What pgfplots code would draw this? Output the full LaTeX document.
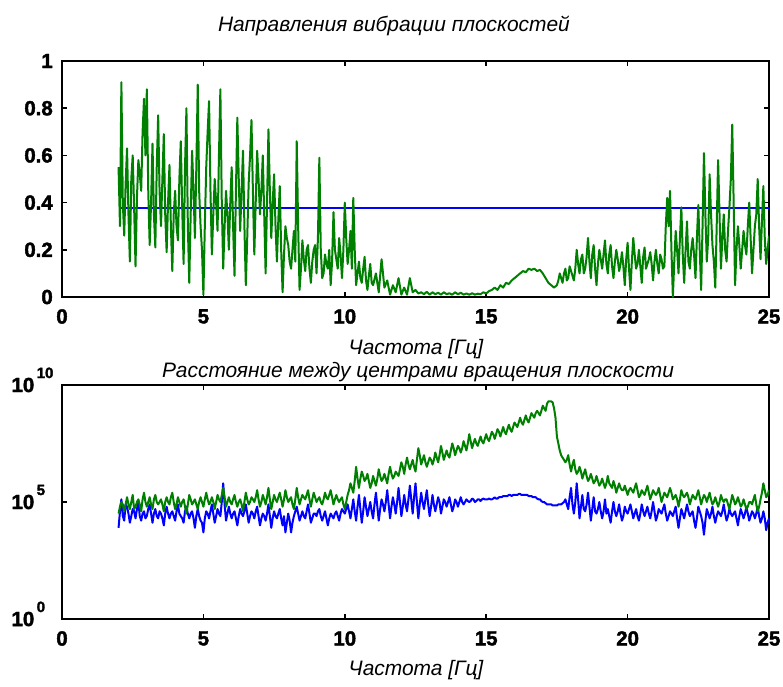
\documentclass[border=0pt]{standalone}
\usepackage{fontspec}
\setmainfont{Liberation Sans}
\newfontfamily\tickfont{Liberation Sans Bold}[FakeBold=2]
\usepackage{pgfplots}
\usepackage{pgfplotstable}
\pgfplotsset{compat=1.18}

\definecolor{mlgreen}{RGB}{0,128,0}
\definecolor{mlblue}{RGB}{0,0,255}

% power-of-ten label: the base carries the alignment, the exponent hangs to its right
\newcommand\tp[1]{10\rlap{\smash{\hspace{2.5bp}\raisebox{14bp}{\fontsize{15}{15}\selectfont #1}}}}

% direction coherence (upper panel)
\pgfplotstableread{
x y
2.0 0.55
2.05 0.30
2.1 0.91
2.15 0.40
2.2 0.26
2.25 0.48
2.3 0.63
2.35 0.35
2.4 0.15
2.45 0.50
2.5 0.60
2.55 0.38
2.6 0.13
2.65 0.42
2.7 0.58
2.75 0.52
2.8 0.45
2.85 0.70
2.9 0.84
2.95 0.60
3.0 0.88
3.05 0.45
3.1 0.22
3.15 0.40
3.2 0.65
3.25 0.35
3.3 0.21
3.35 0.55
3.4 0.77
3.45 0.45
3.5 0.30
3.55 0.50
3.6 0.69
3.65 0.35
3.7 0.19
3.75 0.40
3.8 0.56
3.85 0.30
3.9 0.11
3.95 0.35
4.0 0.45
4.05 0.30
4.1 0.24
4.15 0.50
4.2 0.66
4.25 0.38
4.3 0.14
4.35 0.55
4.4 0.80
4.45 0.30
4.5 0.06
4.55 0.35
4.6 0.62
4.65 0.45
4.7 0.25
4.75 0.55
4.8 0.90
4.85 0.45
4.9 0.30
4.95 0.20
5.0 0.01
5.05 0.30
5.1 0.55
5.15 0.70
5.2 0.83
5.25 0.45
5.3 0.18
5.35 0.35
5.4 0.50
5.45 0.40
5.5 0.28
5.55 0.60
5.6 0.88
5.65 0.40
5.7 0.12
5.75 0.30
5.8 0.45
5.85 0.35
5.9 0.20
5.95 0.40
6.0 0.55
6.05 0.30
6.1 0.09
6.15 0.45
6.2 0.76
6.25 0.50
6.3 0.28
6.35 0.45
6.4 0.62
6.45 0.30
6.5 0.05
6.55 0.25
6.6 0.48
6.65 0.60
6.7 0.75
6.75 0.45
6.8 0.18
6.85 0.40
6.9 0.62
6.95 0.50
7.0 0.35
7.05 0.45
7.1 0.60
7.15 0.35
7.2 0.10
7.25 0.40
7.3 0.71
7.35 0.45
7.4 0.25
7.45 0.40
7.5 0.52
7.55 0.30
7.6 0.15
7.65 0.33
7.7 0.47
7.75 0.20
7.8 0.02
7.85 0.18
7.9 0.30
7.95 0.25
8.0 0.22
8.05 0.15
8.1 0.12
8.15 0.20
8.2 0.28
8.25 0.15
8.3 0.66
8.35 0.30
8.4 0.03
8.45 0.12
8.5 0.24
8.55 0.16
8.6 0.11
8.65 0.20
8.7 0.22
8.75 0.12
8.8 0.06
8.85 0.15
8.9 0.20
8.95 0.22
9.0 0.10
9.05 0.25
9.1 0.59
9.15 0.20
9.2 0.08
9.25 0.10
9.3 0.18
9.35 0.14
9.4 0.12
9.45 0.20
9.5 0.05
9.55 0.15
9.6 0.36
9.65 0.20
9.7 0.16
9.75 0.12
9.8 0.25
9.85 0.18
9.9 0.08
9.95 0.20
10.0 0.40
10.05 0.25
10.1 0.14
10.15 0.20
10.2 0.28
10.25 0.12
10.3 0.42
10.35 0.20
10.4 0.05
10.45 0.10
10.5 0.15
10.55 0.08
10.6 0.06
10.65 0.12
10.7 0.17
10.75 0.07
10.8 0.03
10.85 0.09
10.9 0.14
10.95 0.06
11.0 0.05
11.1 0.10
11.2 0.02
11.3 0.16
11.4 0.04
11.5 0.07
11.6 0.01
11.7 0.05
11.8 0.02
11.9 0.08
12.0 0.01
12.1 0.04
12.2 0.01
12.3 0.08
12.4 0.02
12.5 0.03
12.6 0.015
12.7 0.02
12.8 0.012
12.9 0.022
13.0 0.01
13.1 0.02
13.2 0.012
13.3 0.018
13.4 0.01
13.5 0.02
13.6 0.012
13.7 0.016
13.8 0.01
13.9 0.02
14.0 0.012
14.1 0.018
14.2 0.01
14.3 0.015
14.4 0.01
14.5 0.016
14.6 0.01
14.7 0.014
14.8 0.012
14.9 0.02
15.0 0.015
15.1 0.025
15.2 0.03
15.3 0.04
15.4 0.03
15.5 0.05
15.6 0.04
15.7 0.06
15.8 0.055
15.9 0.07
16.0 0.08
16.1 0.09
16.2 0.10
16.3 0.11
16.4 0.105
16.5 0.12
16.6 0.115
16.7 0.12
16.8 0.11
16.9 0.115
17.0 0.10
17.1 0.08
17.2 0.06
17.3 0.05
17.4 0.04
17.5 0.05
17.55 0.07
17.6 0.10
17.65 0.08
17.7 0.06
17.75 0.10
17.8 0.12
17.85 0.07
17.9 0.08
17.95 0.13
18.0 0.11
18.05 0.09
18.1 0.07
18.15 0.12
18.2 0.20
18.25 0.14
18.3 0.10
18.35 0.16
18.4 0.18
18.45 0.10
18.5 0.12
18.55 0.17
18.6 0.25
18.65 0.15
18.7 0.08
18.75 0.18
18.8 0.22
18.85 0.12
18.9 0.05
18.95 0.14
19.0 0.20
19.05 0.16
19.1 0.12
19.15 0.18
19.2 0.24
19.25 0.14
19.3 0.10
19.35 0.18
19.4 0.22
19.45 0.13
19.5 0.08
19.55 0.15
19.6 0.20
19.65 0.16
19.7 0.11
19.75 0.14
19.8 0.19
19.85 0.13
19.9 0.05
19.95 0.16
20.0 0.23
20.05 0.12
20.1 0.03
20.15 0.15
20.2 0.25
20.25 0.18
20.3 0.12
20.35 0.14
20.4 0.20
20.45 0.13
20.5 0.06
20.55 0.17
20.6 0.21
20.65 0.12
20.7 0.14
20.75 0.16
20.8 0.19
20.85 0.14
20.9 0.07
20.95 0.15
21.0 0.20
21.05 0.14
21.1 0.10
21.15 0.18
21.2 0.16
21.25 0.12
21.3 0.13
21.35 0.30
21.4 0.42
21.45 0.30
21.5 0.45
21.55 0.20
21.6 0.00
21.65 0.15
21.7 0.28
21.75 0.20
21.8 0.10
21.85 0.25
21.9 0.38
21.95 0.18
22.0 0.06
22.05 0.20
22.1 0.32
22.15 0.15
22.2 0.12
22.25 0.20
22.3 0.25
22.35 0.18
22.4 0.08
22.45 0.25
22.5 0.39
22.55 0.20
22.6 0.03
22.65 0.30
22.7 0.61
22.75 0.35
22.8 0.15
22.85 0.25
22.9 0.52
22.95 0.35
23.0 0.22
23.05 0.15
23.1 0.04
23.15 0.30
23.2 0.58
23.25 0.35
23.3 0.12
23.35 0.25
23.4 0.35
23.45 0.20
23.5 0.15
23.55 0.28
23.6 0.38
23.65 0.50
23.7 0.73
23.75 0.40
23.8 0.05
23.85 0.20
23.9 0.30
23.95 0.22
24.0 0.12
24.05 0.20
24.1 0.28
24.15 0.22
24.2 0.18
24.25 0.30
24.3 0.40
24.35 0.25
24.4 0.10
24.45 0.20
24.5 0.30
24.55 0.35
24.6 0.50
24.65 0.30
24.7 0.16
24.75 0.32
24.8 0.47
24.85 0.25
24.9 0.14
24.95 0.20
25.0 0.26
}\coher

% distance between rotation centres, two estimates (lower panel)
\pgfplotstableread{
x a b
2.0 7.9e3 3.2e4
2.05 4.0e4 6.3e4
2.1 1.3e5 1.0e5
2.15 2.5e4 7.9e4
2.2 1.6e4 4.0e4
2.25 7.9e4 7.9e4
2.3 6.3e4 1.6e5
2.35 3.2e4 7.9e4
2.4 1.3e4 5.0e4
2.45 2.5e4 1.0e5
2.5 5.0e4 2.0e5
2.55 4.0e4 5.0e4
2.6 2.0e4 6.3e4
2.65 5.0e4 1.0e5
2.7 1.0e5 1.3e5
2.75 2.5e4 7.9e4
2.8 1.6e4 4.0e4
2.85 3.2e4 1.3e5
2.9 4.0e4 2.5e5
2.95 2.0e4 1.0e5
3.0 2.5e4 6.3e4
3.05 5.0e4 1.0e5
3.1 7.9e4 1.6e5
3.15 3.2e4 7.9e4
3.2 1.3e4 5.0e4
3.25 3.2e4 1.3e5
3.3 5.0e4 2.0e5
3.35 2.5e4 1.0e5
3.4 2.0e4 7.9e4
3.45 4.0e4 1.0e5
3.5 3.2e4 1.3e5
3.55 2.0e4 7.9e4
3.6 1.0e4 4.0e4
3.65 3.2e4 1.0e5
3.7 6.3e4 1.6e5
3.75 3.2e4 1.0e5
3.8 2.0e4 7.9e4
3.85 3.2e4 1.6e5
3.9 4.0e4 2.5e5
3.95 2.5e4 1.0e5
4.0 1.6e4 5.0e4
4.05 4.0e4 7.9e4
4.1 7.9e4 1.6e5
4.15 3.2e4 1.0e5
4.2 2.5e4 6.3e4
4.25 2.0e4 1.0e5
4.3 1.3e4 1.3e5
4.35 4.0e4 6.3e4
4.4 6.3e4 3.2e4
4.45 3.2e4 7.9e4
4.5 2.0e4 2.0e5
4.55 3.2e4 1.3e5
4.6 4.0e4 7.9e4
4.65 2.0e4 1.0e5
4.7 7.9e3 1.3e5
4.75 2.5e4 7.9e4
4.8 5.0e4 5.0e4
4.85 2.5e4 1.0e5
4.9 1.6e4 1.6e5
4.95 1.3e4 1.0e5
5.0 5.0e3 6.3e4
5.05 2.0e4 1.3e5
5.1 4.0e4 2.5e5
5.15 3.2e4 1.3e5
5.2 2.0e4 7.9e4
5.25 4.0e4 1.0e5
5.3 7.9e4 1.6e5
5.35 3.2e4 1.0e5
5.4 1.3e4 5.0e4
5.45 2.5e4 1.0e5
5.5 5.0e4 2.0e5
5.55 3.2e4 1.3e5
5.6 2.5e4 1.0e5
5.65 1.0e5 2.0e5
5.7 6.3e5 4.0e5
5.75 7.9e4 1.6e5
5.8 1.6e4 6.3e4
5.85 3.2e4 1.0e5
5.9 6.3e4 1.6e5
5.95 3.2e4 1.0e5
6.0 2.0e4 7.9e4
6.05 3.2e4 1.3e5
6.1 4.0e4 2.0e5
6.15 2.0e4 1.0e5
6.2 1.0e4 6.3e4
6.25 2.5e4 1.0e5
6.3 5.0e4 1.3e5
6.35 3.2e4 7.9e4
6.4 2.5e4 4.0e4
6.45 4.0e4 1.0e5
6.5 7.9e4 2.5e5
6.55 3.2e4 1.3e5
6.6 1.3e4 7.9e4
6.65 2.5e4 1.0e5
6.7 4.0e4 1.6e5
6.75 3.2e4 1.3e5
6.8 2.0e4 1.0e5
6.85 4.0e4 1.6e5
6.9 6.3e4 3.2e5
6.95 2.5e4 1.3e5
7.0 1.0e4 6.3e4
7.05 2.0e4 1.0e5
7.1 3.2e4 2.0e5
7.15 2.5e4 1.3e5
7.2 1.6e4 7.9e4
7.25 3.2e4 1.6e5
7.3 7.9e4 4.0e5
7.35 2.5e4 1.3e5
7.4 7.9e3 5.0e4
7.45 2.0e4 1.0e5
7.5 4.0e4 2.0e5
7.55 2.5e4 1.3e5
7.6 2.0e4 1.0e5
7.65 3.2e4 1.6e5
7.7 5.0e4 2.5e5
7.75 2.0e4 1.3e5
7.8 1.0e4 6.3e4
7.85 2.5e4 1.3e5
7.9 5.0e3 3.2e5
7.95 1.3e4 1.6e5
8.0 3.2e4 1.0e5
8.05 1.6e4 1.3e5
8.1 5.0e3 1.6e5
8.15 1.3e4 7.9e4
8.2 2.5e4 5.0e4
8.25 4.0e4 1.3e5
8.3 6.3e4 4.0e5
8.35 3.2e4 1.6e5
8.4 1.6e4 7.9e4
8.45 2.5e4 1.3e5
8.5 4.0e4 2.0e5
8.55 2.5e4 1.6e5
8.6 2.0e4 1.3e5
8.65 4.0e4 2.0e5
8.7 7.9e4 3.2e5
8.75 3.2e4 1.3e5
8.8 1.3e4 6.3e4
8.85 2.0e4 1.3e5
8.9 3.2e4 2.5e5
8.95 3.2e4 1.6e5
9.0 2.5e4 1.0e5
9.05 4.0e4 1.3e5
9.1 5.0e4 1.6e5
9.15 2.5e4 1.0e5
9.2 1.6e4 7.9e4
9.25 2.5e4 1.3e5
9.3 4.0e4 2.5e5
9.35 2.0e4 1.6e5
9.4 1.0e4 1.3e5
9.45 2.0e4 2.0e5
9.5 3.2e4 3.2e5
9.55 2.5e4 1.6e5
9.6 2.0e4 7.9e4
9.65 3.2e4 1.3e5
9.7 4.0e4 2.0e5
9.75 2.5e4 1.3e5
9.8 1.6e4 1.0e5
9.85 3.2e4 1.3e5
9.9 5.0e4 1.6e5
9.95 4.0e4 7.9e4
10.0 3.2e4 5.0e4
10.05 5.0e4 1.0e5
10.1 7.9e4 2.0e5
10.15 4.0e4 3.2e5
10.2 2.0e4 6.3e5
10.25 5.0e4 4.0e5
10.3 1.3e5 2.5e5
10.35 4.0e4 7.9e5
10.4 1.6e4 3.2e6
10.45 6.3e4 1.0e6
10.5 2.0e5 4.0e5
10.55 5.0e4 1.0e6
10.6 1.3e4 2.0e6
10.65 4.0e4 1.3e6
10.7 1.6e5 7.9e5
10.75 6.3e4 1.0e6
10.8 2.5e4 1.6e6
10.85 5.0e4 7.9e5
10.9 1.0e5 4.0e5
10.95 4.0e4 6.3e5
11.0 2.0e4 1.3e6
11.05 7.9e4 7.9e5
11.1 2.5e5 5.0e5
11.15 6.3e4 1.0e6
11.2 1.6e4 2.5e6
11.25 5.0e4 1.3e6
11.3 1.3e5 7.9e5
11.35 7.9e4 1.0e6
11.4 4.0e4 1.6e6
11.45 1.0e5 1.0e6
11.5 3.2e5 6.3e5
11.55 7.9e4 1.6e6
11.6 2.0e4 3.2e6
11.65 6.3e4 1.6e6
11.7 1.6e5 1.0e6
11.75 7.9e4 1.3e6
11.8 3.2e4 2.0e6
11.85 1.0e5 1.6e6
11.9 4.0e5 1.3e6
11.95 1.0e5 2.5e6
12.0 2.5e4 5.0e6
12.05 6.3e4 3.2e6
12.1 2.0e5 1.6e6
12.15 7.9e4 4.0e6
12.2 4.0e4 7.9e6
12.25 1.3e5 4.0e6
12.3 5.0e5 2.5e6
12.35 1.3e5 4.0e6
12.4 3.2e4 6.3e6
12.45 1.6e5 3.2e6
12.5 6.3e5 2.0e6
12.55 1.0e5 6.3e6
12.6 2.0e4 2.0e7
12.65 7.9e4 1.0e7
12.7 2.5e5 4.0e6
12.75 1.0e5 6.3e6
12.8 5.0e4 1.0e7
12.85 1.3e5 5.0e6
12.9 3.2e5 3.2e6
12.95 7.9e4 5.0e6
13.0 2.5e4 7.9e6
13.05 6.3e4 6.3e6
13.1 2.0e5 4.0e6
13.15 7.9e4 6.3e6
13.2 4.0e4 1.3e7
13.25 7.9e4 7.9e6
13.3 1.6e5 5.0e6
13.35 1.0e5 1.0e7
13.4 3.2e4 2.5e7
13.45 6.3e4 1.3e7
13.5 1.3e5 6.3e6
13.55 1.0e5 1.0e7
13.6 6.3e4 1.6e7
13.65 1.0e5 1.0e7
13.7 1.6e5 7.9e6
13.75 7.9e4 1.6e7
13.8 4.0e4 3.2e7
13.85 6.3e4 2.0e7
13.9 1.3e5 1.0e7
13.95 1.0e5 1.6e7
14.0 6.3e4 2.5e7
14.05 1.0e5 2.0e7
14.1 1.6e5 1.3e7
14.15 1.0e5 2.0e7
14.2 7.9e4 4.0e7
14.25 1.0e5 2.5e7
14.3 1.3e5 1.6e7
14.35 1.1e5 3.2e7
14.4 1.0e5 7.9e7
14.45 1.1e5 4.0e7
14.5 1.4e5 2.0e7
14.55 1.3e5 3.2e7
14.6 1.0e5 5.0e7
14.65 1.1e5 3.2e7
14.7 1.3e5 2.5e7
14.75 1.3e5 4.0e7
14.8 1.1e5 6.3e7
14.85 1.3e5 4.0e7
14.9 1.4e5 3.2e7
14.95 1.3e5 5.0e7
15.0 1.3e5 7.9e7
15.05 1.3e5 5.0e7
15.1 1.4e5 4.0e7
15.15 1.3e5 6.3e7
15.2 1.3e5 1.0e8
15.25 1.4e5 7.9e7
15.3 1.6e5 5.0e7
15.35 1.4e5 7.9e7
15.4 1.4e5 1.3e8
15.45 1.6e5 1.0e8
15.5 1.6e5 6.3e7
15.55 1.6e5 1.0e8
15.6 1.8e5 1.6e8
15.65 1.8e5 1.0e8
15.7 1.8e5 7.9e7
15.75 1.8e5 1.3e8
15.8 2.0e5 2.0e8
15.85 2.0e5 1.3e8
15.9 1.8e5 1.0e8
15.95 2.0e5 1.6e8
16.0 2.0e5 2.5e8
16.05 2.0e5 2.0e8
16.1 2.0e5 1.6e8
16.15 2.2e5 2.5e8
16.2 2.2e5 4.0e8
16.25 2.0e5 2.5e8
16.3 2.0e5 2.0e8
16.35 2.0e5 3.2e8
16.4 2.0e5 5.0e8
16.45 2.0e5 3.2e8
16.5 1.8e5 2.5e8
16.55 1.8e5 4.0e8
16.6 1.8e5 6.3e8
16.65 1.6e5 5.0e8
16.7 1.6e5 4.0e8
16.75 1.6e5 6.3e8
16.8 1.4e5 7.9e8
16.85 1.3e5 6.3e8
16.9 1.3e5 5.0e8
16.95 1.1e5 7.9e8
17.0 1.0e5 1.3e9
17.05 1.0e5 1.0e9
17.1 8.9e4 7.9e8
17.15 7.9e4 1.6e9
17.2 7.9e4 2.0e9
17.25 7.9e4 2.0e9
17.3 7.9e4 2.0e9
17.35 7.1e4 1.8e9
17.4 7.1e4 1.0e9
17.45 7.1e4 4.0e8
17.5 7.1e4 6.3e7
17.55 7.9e4 3.2e7
17.6 7.9e4 1.6e7
17.65 7.9e4 1.0e7
17.7 8.9e4 7.9e6
17.75 1.0e5 6.3e6
17.8 1.3e5 5.0e6
17.85 7.9e4 6.3e6
17.9 5.0e4 1.0e7
17.95 1.6e5 4.0e6
18.0 4.0e5 2.0e6
18.05 7.9e4 4.0e6
18.1 3.2e4 6.3e6
18.15 1.0e5 2.5e6
18.2 6.3e5 1.6e6
18.25 1.3e5 2.0e6
18.3 2.0e4 3.2e6
18.35 6.3e4 2.0e6
18.4 2.0e5 1.0e6
18.45 5.0e4 1.6e6
18.5 4.0e4 2.5e6
18.55 7.9e4 1.3e6
18.6 2.5e5 7.9e5
18.65 6.3e4 1.0e6
18.7 1.6e4 1.6e6
18.75 5.0e4 1.0e6
18.8 1.6e5 6.3e5
18.85 4.0e4 7.9e5
18.9 3.2e4 1.3e6
18.95 5.0e4 7.9e5
19.0 1.0e5 5.0e5
19.05 4.0e4 6.3e5
19.1 2.0e4 1.0e6
19.15 4.0e4 6.3e5
19.2 1.3e5 4.0e5
19.25 3.2e4 6.3e5
19.3 5.0e4 1.3e6
19.35 2.5e4 6.3e5
19.4 1.3e4 5.0e5
19.45 4.0e4 4.0e5
19.5 1.0e5 7.9e5
19.55 4.0e4 5.0e5
19.6 2.5e4 2.5e5
19.65 4.0e4 4.0e5
19.7 7.9e4 6.3e5
19.75 3.2e4 4.0e5
19.8 1.6e4 3.2e5
19.85 2.5e4 3.2e5
19.9 6.3e4 5.0e5
19.95 4.0e4 3.2e5
20.0 3.2e4 2.0e5
20.05 5.0e4 3.2e5
20.1 7.9e4 4.0e5
20.15 4.0e4 3.2e5
20.2 2.0e4 2.5e5
20.25 3.2e4 4.0e5
20.3 5.0e4 6.3e5
20.35 2.5e4 3.2e5
20.4 1.6e4 1.6e5
20.45 3.2e4 2.0e5
20.5 7.9e4 3.2e5
20.55 4.0e4 2.5e5
20.6 2.5e4 2.0e5
20.65 4.0e4 3.2e5
20.7 6.3e4 5.0e5
20.75 3.2e4 2.5e5
20.8 2.0e4 1.3e5
20.85 4.0e4 2.0e5
20.9 1.0e5 3.2e5
20.95 4.0e4 2.5e5
21.0 1.6e4 2.0e5
21.05 2.5e4 2.5e5
21.1 5.0e4 4.0e5
21.15 4.0e4 2.0e5
21.2 3.2e4 1.0e5
21.25 5.0e4 1.6e5
21.3 7.9e4 2.5e5
21.35 3.2e4 2.0e5
21.4 1.6e4 1.6e5
21.45 2.5e4 2.5e5
21.5 4.0e4 4.0e5
21.55 3.2e4 2.5e5
21.6 2.5e4 1.3e5
21.65 4.0e4 1.6e5
21.7 6.3e4 2.0e5
21.75 2.0e4 1.3e5
21.8 7.9e3 6.3e4
21.85 2.0e4 1.3e5
21.9 5.0e4 3.2e5
21.95 3.2e4 2.0e5
22.0 2.0e4 1.6e5
22.05 4.0e4 2.0e5
22.1 7.9e4 2.5e5
22.15 4.0e4 1.6e5
22.2 2.5e4 7.9e4
22.25 3.2e4 1.3e5
22.3 4.0e4 2.0e5
22.35 1.6e4 1.6e5
22.4 7.9e3 1.3e5
22.45 2.0e4 2.0e5
22.5 6.3e4 3.2e5
22.55 4.0e4 1.6e5
22.6 2.5e4 7.9e4
22.65 1.3e4 1.3e5
22.7 4.0e3 2.0e5
22.75 1.6e4 1.6e5
22.8 5.0e4 1.0e5
22.85 3.2e4 1.6e5
22.9 2.0e4 2.5e5
22.95 3.2e4 1.3e5
23.0 6.3e4 7.9e4
23.05 2.5e4 1.0e5
23.1 1.3e4 1.6e5
23.15 2.5e4 1.0e5
23.2 4.0e4 6.3e4
23.25 3.2e4 1.0e5
23.3 2.5e4 2.0e5
23.35 4.0e4 1.3e5
23.4 7.9e4 1.0e5
23.45 3.2e4 1.3e5
23.5 1.6e4 1.3e5
23.55 2.5e4 7.9e4
23.6 5.0e4 5.0e4
23.65 3.2e4 1.0e5
23.7 2.5e4 2.0e5
23.75 3.2e4 1.3e5
23.8 4.0e4 7.9e4
23.85 2.0e4 1.0e5
23.9 1.0e4 1.6e5
23.95 2.5e4 1.0e5
24.0 5.0e4 6.3e4
24.05 3.2e4 7.9e4
24.1 2.0e4 1.3e5
24.15 3.2e4 7.9e4
24.2 6.3e4 5.0e4
24.25 3.2e4 6.3e4
24.3 1.6e4 1.0e5
24.35 2.5e4 1.0e5
24.4 4.0e4 7.9e4
24.45 3.2e4 1.3e5
24.5 2.0e4 2.0e5
24.55 3.2e4 7.9e4
24.6 6.3e4 4.0e4
24.65 2.5e4 6.3e4
24.7 1.3e4 1.3e5
24.75 2.0e4 2.5e5
24.8 4.0e4 6.3e5
24.85 2.0e4 3.2e5
24.9 6.3e3 1.6e5
24.95 1.3e4 2.0e5
25.0 2.0e4 3.2e5
}\dist

\pgfplotsset{
  panel/.style={
    scale only axis,
    width=707bp,
    xmin=0, xmax=25,
    xtick={0,5,10,15,20,25},
    xticklabels={0,5,10,15,20,25},
    tick align=inside,
    major tick length=5bp,
    axis line style={line width=1.5bp},
    every axis/.append style={line width=1.5bp},
    tick style={line width=1.5bp, black},
    ticklabel style={font=\tickfont\fontsize{20.5}{20.5}\selectfont, inner sep=0pt},
    xticklabel style={yshift=-11.5bp},
  },
}

\begin{document}
\begin{tikzpicture}[x=1bp,y=1bp]
\useasboundingbox (0,0) rectangle (783,-687);

\begin{axis}[panel,
  at={(62bp,-297bp)}, anchor=south west,
  height=236bp,
  ymin=0, ymax=1,
  ytick={0,0.2,0.4,0.6,0.8,1},
  yticklabels={0,0.2,0.4,0.6,0.8,1},
  yticklabel style={xshift=-8.5bp},
]
\addplot[mlblue, line width=2bp] coordinates {(2,0.377) (25,0.377)};
\addplot[mlgreen, line width=2bp, line join=round] table[x=x, y=y] {\coher};
\end{axis}

\begin{axis}[panel,
  at={(62bp,-619bp)}, anchor=south west,
  height=234bp,
  ymode=log,
  ymin=1, ymax=1e10,
  ytick={1,1e5,1e10},
  yticklabels={\tp{0},\tp{5},\tp{10}},
  yticklabel style={xshift=-27bp},
  yminorticks=false,
]
\addplot[mlblue, line width=2bp, line join=round] table[x=x, y=a] {\dist};
\addplot[mlgreen, line width=2bp, line join=round] table[x=x, y=b] {\dist};
\end{axis}

\begin{scope}[every node/.style={font=\itshape\fontsize{21}{24}\selectfont, inner sep=0pt}]
\node at (394,-26) {Направления вибрации плоскостей};
\node at (416,-349) {Частота [Гц]};
\node at (418,-372) {Расстояние между центрами вращения плоскости};
\node at (416,-670) {Частота [Гц]};
\end{scope}
\end{tikzpicture}
\end{document}
